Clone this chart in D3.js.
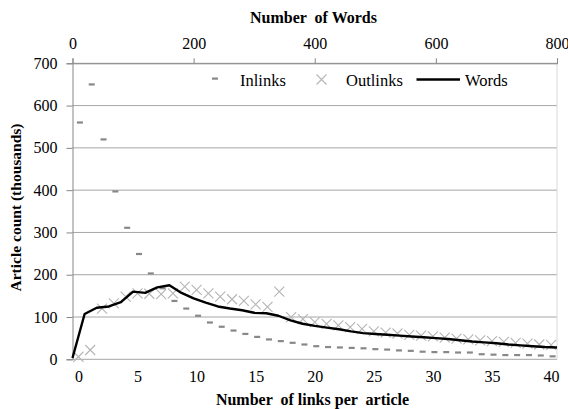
<!DOCTYPE html>
<html>
<head>
<meta charset="utf-8">
<script src="https://cdn.jsdelivr.net/npm/d3@7"></script>
<style>
  html, body { margin: 0; padding: 0; background: #fff; }
  svg text { font-family: "Liberation Serif", "DejaVu Serif", "Times New Roman", Times, serif !important; white-space: pre; }
</style>
</head>
<body>
<svg id="chart" width="568" height="409"></svg>
<script>
// Links per article (bottom axis categories)
const linkCounts = d3.range(0, 41);
// Article counts in thousands for each number of inlinks
const inlinks = [560, 650, 520, 397, 311, 249, 203, 168, 138, 120,
                 103, 87, 77, 68, 60, 53, 47, 43, 39, 35,
                 31, 29, 28, 27, 26, 24, 23, 21, 20, 18,
                 17, 17, 16, 16, 12, 11, 10, 10, 10, 9, 7];
// Article counts in thousands for each number of outlinks
const outlinks = [6, 22, 120, 132, 148, 156, 155, 154, 156, 172,
                  164, 156, 148, 142, 138, 130, 124, 160, 100, 95,
                  88, 84, 80, 76, 72, 66, 63, 61, 58, 56,
                  54, 51, 49, 47, 45, 43, 41, 39, 37, 35, 34];
// Words per article (top axis), in steps of 20
const wordCounts = d3.range(0, 801, 20);
const words = [3, 107, 122, 125, 135, 160, 157, 170, 175, 157,
               144, 134, 125, 120, 116, 110, 109, 103, 92, 84,
               79, 75, 71, 66, 62, 60, 58, 56, 54, 52,
               50, 48, 45, 42, 40, 38, 35, 33, 31, 29, 28];

const yTicks = [0, 100, 200, 300, 400, 500, 600, 700];
const bottomTicks = [0, 5, 10, 15, 20, 25, 30, 35, 40];
const topTicks = [0, 200, 400, 600, 800];

const svg = d3.select("#chart");
const L = 72.5, R = 557, T = 63.3, B = 359.3;
const FS = 16;

const x = d3.scaleLinear().domain([-0.5, 40.5]).range([L, R]);
const xTop = d3.scaleLinear().domain([0, 800]).range([L, R]);
const y = d3.scaleLinear().domain([0, 700]).range([B, T]);

// Horizontal gridlines
svg.append("g")
  .selectAll("line").data(yTicks).join("line")
  .attr("x1", L).attr("x2", R)
  .attr("y1", d => y(d)).attr("y2", d => y(d))
  .attr("stroke", "#a6a6a6").attr("stroke-width", 1);

// Right border of the plot area
svg.append("line")
  .attr("x1", R).attr("x2", R).attr("y1", T).attr("y2", B)
  .attr("stroke", "#d9d9d9").attr("stroke-width", 1);

// Left value axis
const yAxis = svg.append("g")
  .attr("transform", `translate(${L},0)`)
  .call(d3.axisLeft(y).tickValues(yTicks).tickSize(6).tickPadding(9).tickFormat(d3.format("d")));
yAxis.select(".domain").attr("stroke", "#868686");
yAxis.selectAll(".tick line").attr("stroke", "#868686");
yAxis.selectAll("text").attr("font-size", FS).attr("fill", "#000");

// Bottom category axis
const xAxis = svg.append("g")
  .attr("transform", `translate(0,${B})`)
  .call(d3.axisBottom(x).tickValues(bottomTicks).tickSize(0).tickPadding(11));
xAxis.select(".domain").remove();
xAxis.selectAll("text").attr("font-size", FS).attr("fill", "#000");

// Top axis for the number of words
const xTopAxis = svg.append("g")
  .attr("transform", `translate(0,${T})`)
  .call(d3.axisTop(xTop).tickValues(topTicks).tickSize(5).tickPadding(9));
xTopAxis.select(".domain").attr("stroke", "#868686");
xTopAxis.selectAll(".tick line").attr("stroke", "#868686");
xTopAxis.selectAll("text").attr("font-size", FS).attr("fill", "#000");

// Outlinks: light grey crosses
const cross = 5;
const crossPath = (cx, cy) =>
  `M${cx - cross},${cy - cross}L${cx + cross},${cy + cross}M${cx - cross},${cy + cross}L${cx + cross},${cy - cross}`;
svg.append("g")
  .selectAll("path").data(linkCounts).join("path")
  .attr("d", i => crossPath(x(i), y(outlinks[i])))
  .attr("stroke", "#b5b5b5").attr("stroke-width", 1.1).attr("fill", "none");

// Inlinks: short grey dashes
svg.append("g")
  .selectAll("rect").data(linkCounts).join("rect")
  .attr("x", i => x(i) - 1.5).attr("y", i => y(inlinks[i]) - 1.1)
  .attr("width", 6).attr("height", 2.2)
  .attr("fill", "#888888");

// Words: black line on the top axis
svg.append("path")
  .datum(wordCounts.map((w, i) => [w, words[i]]))
  .attr("d", d3.line().x(d => xTop(d[0])).y(d => y(d[1])))
  .attr("fill", "none").attr("stroke", "#000").attr("stroke-width", 2.4)
  .attr("stroke-linejoin", "round");

// Legend
const lg = svg.append("g").attr("font-size", 16.5);
lg.append("rect").attr("x", 212).attr("y", 77.5).attr("width", 6).attr("height", 2.2).attr("fill", "#888888");
lg.append("text").attr("x", 240).attr("y", 86).text("Inlinks");
lg.append("path").attr("d", crossPath(321.5, 79.5))
  .attr("stroke", "#b5b5b5").attr("stroke-width", 1.1);
lg.append("text").attr("x", 346).attr("y", 86).text("Outlinks");
lg.append("line").attr("x1", 416.5).attr("x2", 460).attr("y1", 79.5).attr("y2", 79.5)
  .attr("stroke", "#000").attr("stroke-width", 2.4);
lg.append("text").attr("x", 465).attr("y", 86).text("Words");

// Axis titles
svg.append("text")
  .attr("x", 313.5).attr("y", 22.7)
  .attr("text-anchor", "middle").attr("font-weight", "bold").attr("font-size", FS)
  .text("Number  of Words");
svg.append("text")
  .attr("x", 312.5).attr("y", 405)
  .attr("text-anchor", "middle").attr("font-weight", "bold").attr("font-size", FS)
  .text("Number  of links per  article");
svg.append("text")
  .attr("transform", `translate(21,207.5) rotate(-90)`)
  .attr("text-anchor", "middle").attr("font-weight", "bold").attr("font-size", 15.5)
  .text("Article count (thousands)");
</script>
</body>
</html>
